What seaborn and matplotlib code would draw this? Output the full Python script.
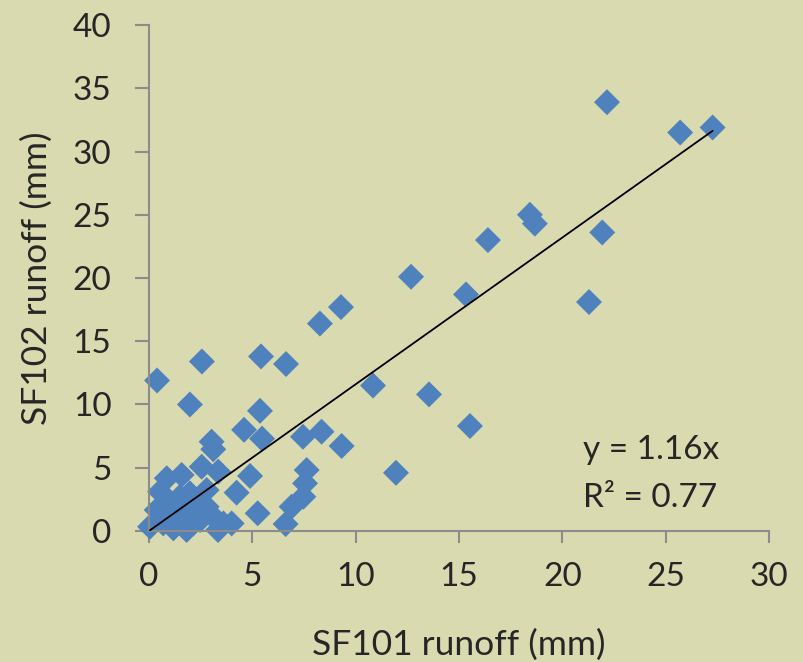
import numpy as np
import pandas as pd
import matplotlib
matplotlib.use("Agg")
import matplotlib.pyplot as plt
import seaborn as sns

# runoff pairs (mm)
sf101 = [22.16, 25.7, 27.27, 21.93, 21.29,
         18.43, 18.67, 16.4, 12.68, 15.34, 9.29, 8.27,
         5.42, 6.63, 2.56, 0.39, 1.98, 10.84, 5.37, 13.55, 15.53,
         4.6, 5.47, 7.45, 8.35, 9.32, 3.03, 3.11,
         11.95, 7.63, 4.89, 7.55, 7.47, 6.9, 6.61, 5.26,
         4.24, 3.35, 2.55, 1.58, 0.86,
         0.53, 1.5, 1.98, 2.79, 0.37, 1.02, 2.31, 2.79, 3.11, 3.6, 4.0,
         0.05, 0.69, 1.34, 1.82, 2.14, 1.18, 2.47, 3.34, 1.65]
sf102 = [33.9, 31.5, 31.9, 23.6, 18.1,
         25.0, 24.3, 23.0, 20.1, 18.7, 17.7, 16.4,
         13.8, 13.2, 13.4, 11.9, 10.0, 11.5, 9.5, 10.8, 8.3,
         8.0, 7.3, 7.45, 7.85, 6.72, 7.06, 6.46,
         4.6, 4.82, 4.35, 3.77, 2.71, 1.92, 0.55, 1.4,
         3.03, 4.69, 5.08, 4.43, 4.17,
         3.11, 2.71, 2.98, 3.24, 1.66, 1.92, 2.19, 1.92, 1.13, 0.6, 0.6,
         0.34, 0.6, 0.87, 0.08, 0.6, 0.21, 0.87, 0.08, 1.4]
slope = 1.16
r2 = 0.77

df = pd.DataFrame({"SF101": sf101, "SF102": sf102})

bg = "#DADAB0"
sns.set_theme(style="ticks")
plt.rcParams["font.family"] = ["Lato", "DejaVu Sans"]

fig = plt.figure(figsize=(8.04, 6.62), dpi=100, facecolor=bg)
ax = fig.add_axes([0.1853, 0.1979, 0.7712, 0.7643])
ax.set_facecolor(bg)

sns.scatterplot(data=df, x="SF101", y="SF102", marker="D", s=175,
                color="#4F81BD", edgecolor="none", ax=ax, zorder=2,
                clip_on=False)

xs = np.array([min(sf101), max(sf101)])
ax.plot(xs, slope * xs, color="black", lw=1.3, zorder=3, clip_on=False)

ax.set_xlim(0, 30)
ax.set_ylim(0, 40)
ax.set_xticks(range(0, 31, 5))
ax.set_yticks(range(0, 41, 5))

ax.set_xlabel("SF101 runoff (mm)", fontsize=25.5)
ax.set_ylabel("SF102 runoff (mm)", fontsize=25.5)
ax.xaxis.label.set_va("baseline")
ax.yaxis.label.set_va("baseline")
ax.xaxis.set_label_coords(0.5, -0.245)
ax.yaxis.set_label_coords(-0.165, 0.5)

ax.tick_params(axis="y", labelsize=24, length=10, width=1.5,
               color="#8C8C8C", pad=17)
ax.tick_params(axis="x", labelsize=24, length=8.5, width=1.5,
               color="#8C8C8C", pad=14)

sns.despine(ax=ax)
for side in ["left", "bottom"]:
    ax.spines[side].set_color("#8C8C8C")
    ax.spines[side].set_linewidth(1.5)

ax.text(21.0, 5.7, f"y = {slope:.2f}x", fontsize=24, va="baseline")
ax.text(21.0, 1.9, f"R² = {r2:.2f}", fontsize=24, va="baseline")

fig.savefig("out.png", dpi=100, facecolor=bg)
